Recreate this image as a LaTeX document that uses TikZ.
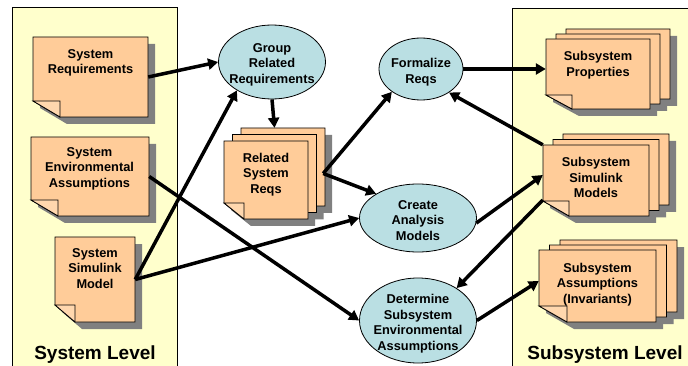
\documentclass[tikz,border=0pt]{standalone}
\usepackage{fontspec}
\setmainfont{Liberation Sans}
\usetikzlibrary{arrows.meta,calc,shapes.geometric}
\definecolor{docfill}{HTML}{FFCC99}
\definecolor{foldfill}{HTML}{FFD7AE}
\definecolor{ellfill}{HTML}{BADFE3}
\definecolor{panelfill}{HTML}{FFFFCC}
\definecolor{shadowc}{HTML}{808080}
\newcommand\pgshadow[6]{%
  \fill[shadowc] (#1,#2) -- (#3,#2) -- (#3,#4) -- ({#1+#5},#4) -- (#1,{#4-#6}) -- cycle;}
\newcommand\pgbody[6]{%
  \filldraw[fill=docfill,draw=black,line width=0.8pt] (#1,#2) -- (#3,#2) -- (#3,#4) -- ({#1+#5},#4) -- (#1,{#4-#6}) -- cycle;
  \filldraw[fill=foldfill,draw=black,line width=0.8pt] (#1,{#4-#6}) -- ({#1+#5},{#4-#6}) -- ({#1+#5},#4) -- cycle;}
% single page: x1 y1 x2 y2 fw fh
\newcommand\singledoc[6]{%
  \begin{scope}[shift={(7,7)}]\pgshadow{#1}{#2}{#3}{#4}{#5}{#6}\end{scope}
  \pgbody{#1}{#2}{#3}{#4}{#5}{#6}}
% stack of three pages: x1 y1 x2 y2 fw fh dx dy
\newcommand\stackdoc[8]{%
  \foreach \k in {2,1,0}{\begin{scope}[shift={({\k*#7+7},{\k*#8+7})}]\pgshadow{#1}{#2}{#3}{#4}{#5}{#6}\end{scope}}
  \foreach \k in {2,1,0}{\begin{scope}[shift={({\k*#7},{\k*#8})}]\pgbody{#1}{#2}{#3}{#4}{#5}{#6}\end{scope}}}
\begin{document}
\begin{tikzpicture}[x=1pt,y=-1pt,
  box/.style={inner sep=0pt,draw=none},
  doctext/.style={align=center,font=\fontsize{12.8}{15.5}\selectfont\bfseries,inner sep=0pt},
  ell/.style={ellipse,draw=black,line width=0.8pt,fill=ellfill,inner sep=0pt},
  lvl/.style={font=\fontsize{19}{21}\selectfont\bfseries,inner sep=0pt},
  arr/.style={line width=3.5pt,-{Triangle[length=10pt,width=11pt]}}]
\clip (0,0) rectangle (688,366);
\fill[white] (0,0) rectangle (688,366);
% panels
\filldraw[fill=panelfill,draw=black,line width=0.8pt] (12,7) rectangle (177,380);
\filldraw[fill=panelfill,draw=black,line width=0.8pt] (512,8) rectangle (700,380);
\node[lvl] (lsys) at (95,354.5) {System Level};
\node[lvl] (lsub) at (605,354.5) {Subsystem Level};
% left documents
\singledoc{33}{37}{148}{117}{27}{16}
\node[box,minimum width=115pt,minimum height=80pt] (sreq) at (90.5,77) {};
\node[doctext] (sreqt) at (90.5,63) {System\\Requirements};
\singledoc{31}{137}{149}{216}{27}{16}
\node[box,minimum width=118pt,minimum height=79pt] (senv) at (90,176.5) {};
\node[doctext] (senvt) at (89.5,168.5) {System\\Environmental\\Assumptions};
\singledoc{55}{237}{135}{322}{20}{17}
\node[box,minimum width=80pt,minimum height=85pt] (ssim) at (95,279.5) {};
\node[doctext] (ssimt) at (95,268.5) {System\\Simulink\\Model};
% middle stacked document
\stackdoc{224}{141}{308}{219}{20}{16}{8.5}{-6.5}
\node[box,minimum width=101pt,minimum height=91pt] (rsr) at (274.5,173.5) {};
\node[doctext] (rsrt) at (266,174.5) {Related\\System\\Reqs};
% right stacked documents
\stackdoc{546}{39}{650}{109}{26}{14}{10}{-5}
\node[box,minimum width=124pt,minimum height=80pt] (sprop) at (608,69) {};
\node[doctext] (spropt) at (598,65) {Subsystem\\Properties};
\stackdoc{543}{145}{649}{216}{26}{15}{10}{-5.5}
\node[box,minimum width=126pt,minimum height=82pt] (ssimm) at (606,175) {};
\node[doctext] (ssimmt) at (596,177.5) {Subsystem\\Simulink\\Models};
\stackdoc{539}{250}{656}{322}{28}{16}{10.5}{-5}
\node[box,minimum width=138pt,minimum height=82pt] (sass) at (608,281) {};
\node[doctext] (sasst) at (597.5,284.5) {Subsystem\\Assumptions\\(Invariants)};
% ellipses
\node[ell,minimum width=107pt,minimum height=74pt] (grp) at (272,62) {};
\node[doctext] (grpt) at (272,64.5) {Group\\Related\\Requirements};
\node[ell,minimum width=84pt,minimum height=62pt] (frm) at (421,69) {};
\node[doctext] (frmt) at (421,72) {Formalize\\Reqs};
\node[ell,minimum width=117pt,minimum height=68pt] (cam) at (418,218) {};
\node[doctext] (camt) at (418,220.5) {Create\\Analysis\\Models};
\node[ell,minimum width=117pt,minimum height=85pt] (det) at (418,320.5) {};
\node[doctext] (dett) at (418,323.5) {Determine\\Subsystem\\Environmental\\Assumptions};
% connectors
\draw[arr] (sreq.east) -- (grp.west);
\draw[arr] (ssim.east) -- (grp.219);
\draw[arr] (ssim.east) -- (cam.west);
\draw[arr] (senv.east) -- (det.west);
\draw[arr] (grp.south) -- (rsr.north);
\draw[arr] ($(rsr.east)+(-2,0)$) -- (frm.218);
\draw[arr] ($(rsr.east)+(-2,0)$) -- (cam.150);
\draw[arr] (frm.east) -- (sprop.west);
\draw[arr] ($(ssimm.north west)+(0,11)$) -- (frm.320);
\draw[arr] (cam.355) -- (ssimm.west);
\draw[arr] ($(ssimm.west)+(0,25)$) -- (det.40);
\draw[arr] (det.east) -- (sass.west);
\end{tikzpicture}
\end{document}
